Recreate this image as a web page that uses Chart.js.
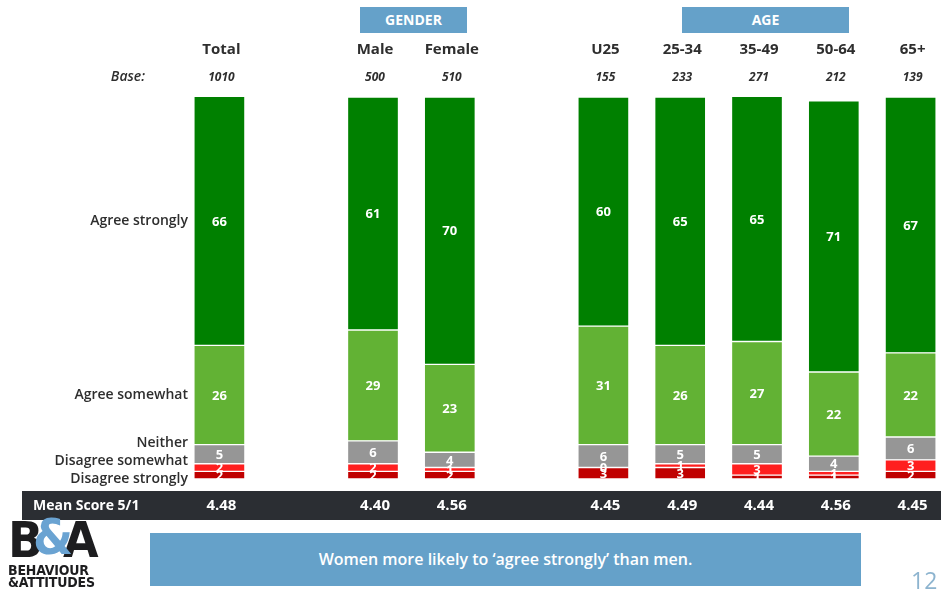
<!DOCTYPE html>
<html>
<head>
<meta charset="utf-8">
<script src="https://cdn.jsdelivr.net/npm/chart.js@4.4.1/dist/chart.umd.min.js"></script>
<style>
  html, body { margin: 0; padding: 0; background: #fff; overflow: hidden; width: 941px; height: 592px; }
  body { position: relative; font-family: "Open Sans", sans-serif; }
  .hdr { position: absolute; top: 7px; height: 26px; background: #65a1c9; color: #fff; font-weight: bold; font-size: 14px; line-height: 26px; text-align: center; }
  #meanbar { position: absolute; left: 22px; top: 491px; width: 919px; height: 29px; background: #2b2e33; }
  #wrap { position: absolute; left: 0; top: 0; width: 960px; height: 592px; }
  #note { position: absolute; left: 150px; top: 533px; width: 711px; height: 53px; background: #65a1c9; color: #fff; font-size: 16px; font-weight: 600; line-height: 53px; text-align: center; }
  #page { position: absolute; left: 911px; top: 564px; font-size: 23px; color: #8db4cf; }
  #logo { position: absolute; left: 8px; top: 516px; width: 100px; }
  #logo .ba { font-family: "DejaVu Sans"; font-weight: bold; font-size: 50px; line-height: 48px; color: #1d1d1f; letter-spacing: -5px; transform: scaleX(0.92); transform-origin: left; }
  #logo .ba span { color: #6aa3d2; margin: 0 -6px; position: relative; top: -3px; }
  #logo .bt { font-family: "DejaVu Sans Condensed", "DejaVu Sans"; font-weight: bold; font-size: 14px; line-height: 12px; color: #1d1d1f; letter-spacing: -0.2px; }
</style>
</head>
<body>
<div class="hdr" style="left:360px; width:107px;">GENDER</div>
<div class="hdr" style="left:682px; width:167px;">AGE</div>
<div id="meanbar"></div>
<div id="wrap"><canvas id="chart" width="960" height="592"></canvas></div>
<div id="logo">
  <div class="ba">B<span>&amp;</span>A</div>
  <div class="bt">BEHAVIOUR<br>&amp;ATTITUDES</div>
</div>
<div id="note">Women more likely to ‘agree strongly’ than men.</div>
<div id="page">12</div>

<script>
// categories (empty slots are the gaps between groups)
const categories = ["Total", "", "Male", "Female", "", "U25", "25-34", "35-49", "50-64", "65+"];
const baseSizes = ["1010", "", "500", "510", "", "155", "233", "271", "212", "139"];
const meanScores = ["4.48", "", "4.40", "4.56", "", "4.45", "4.49", "4.44", "4.56", "4.45"];

// series values (%)
const agreeStrongly    = [66, null, 61, 70, null, 60, 65, 65, 71, 67];
const agreeSomewhat    = [26, null, 29, 23, null, 31, 26, 27, 22, 22];
const neither          = [5,  null, 6,  4,  null, 6,  5,  5,  4,  6];
const disagreeSomewhat = [2,  null, 2,  1,  null, 0,  1,  3,  1,  3];
const disagreeStrongly = [2,  null, 2,  2,  null, 3,  3,  1,  1,  2];

const seriesNames = ["Disagree strongly", "Disagree somewhat", "Neither", "Agree somewhat", "Agree strongly"];
const seriesData = [disagreeStrongly, disagreeSomewhat, neither, agreeSomewhat, agreeStrongly];
const seriesColors = ["#c00000", "#ff1f1f", "#969696", "#62b234", "#008000"];

const FONT = "'Open Sans', sans-serif";
const TEXT = "#2e2e2e";

// draws the table texts and segment labels
const tablePlugin = {
  id: "tableText",
  afterDatasetsDraw(chart) {
    const ctx = chart.ctx;
    const xs = chart.scales.x;
    const area = chart.chartArea;
    ctx.save();
    ctx.textAlign = "center";
    ctx.textBaseline = "middle";

    // segment values
    ctx.fillStyle = "#ffffff";
    ctx.font = "bold 13px " + FONT;
    chart.data.datasets.forEach((ds, di) => {
      const meta = chart.getDatasetMeta(di);
      meta.data.forEach((bar, i) => {
        const v = ds.data[i];
        if (v === null || v === undefined) return;
        const p = bar.getProps(["x", "y", "base"], true);
        const top = Math.max(p.y, area.top);
        ctx.fillText(String(v), p.x, (top + p.base) / 2 + 1);
      });
    });

    // column headers, bases, mean scores
    categories.forEach((c, i) => {
      if (!c) return;
      const cx = xs.getPixelForValue(i);
      ctx.fillStyle = TEXT;
      ctx.font = "bold 15px " + FONT;
      ctx.fillText(c, cx + 2, 50);
      ctx.font = "italic bold 12px " + FONT;
      ctx.fillText(baseSizes[i], cx + 2, 78);
      ctx.fillStyle = "#ffffff";
      ctx.font = "bold 15px " + FONT;
      ctx.fillText(meanScores[i], cx + 2, 506);
    });

    ctx.textAlign = "right";
    ctx.fillStyle = TEXT;
    ctx.font = "italic 600 14px " + FONT;
    ctx.fillText("Base:", 145, 77);

    // series names on the left, next to the Total bar
    ctx.font = "600 14px " + FONT;
    const lx = 188;
    [4, 3].forEach(di => {
      const bar = chart.getDatasetMeta(di).data[0];
      const p = bar.getProps(["y", "base"], true);
      ctx.fillText(seriesNames[di], lx, (Math.max(p.y, area.top) + p.base) / 2);
    });
    [2, 1, 0].forEach((di, k) => {
      ctx.fillText(seriesNames[di], lx, area.bottom - 36 + k * 18);
    });

    ctx.textAlign = "left";
    ctx.fillStyle = "#ffffff";
    ctx.font = "bold 14px " + FONT;
    ctx.fillText("Mean Score 5/1", 33, 506);
    ctx.restore();
  }
};

new Chart(document.getElementById("chart"), {
  type: "bar",
  data: {
    labels: categories,
    datasets: seriesData.map((d, i) => ({
      label: seriesNames[i],
      data: d,
      backgroundColor: seriesColors[i],
      borderColor: "rgba(255,255,255,0.85)",
      borderWidth: 1,
      borderSkipped: false,
      barThickness: 51,
      clip: 0
    }))
  },
  options: {
    responsive: false,
    animation: false,
    layout: { padding: { left: 181, right: 11, top: 97, bottom: 113 } },
    scales: {
      x: { stacked: true, display: false },
      y: { stacked: true, display: false, min: 0, max: 100 }
    },
    plugins: {
      legend: { display: false },
      tooltip: { enabled: false }
    }
  },
  plugins: [tablePlugin]
});
</script>
</body>
</html>
